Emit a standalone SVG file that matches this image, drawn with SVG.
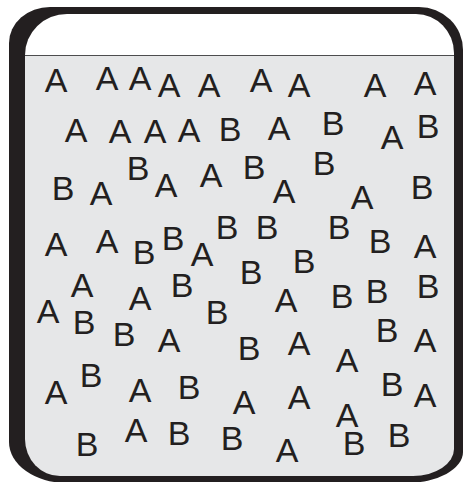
<svg xmlns="http://www.w3.org/2000/svg" width="466" height="482" viewBox="0 0 466 482">
<style>
.t{font-family:"Liberation Sans",Arial,sans-serif;font-size:34px;fill:#231f20;text-anchor:middle}
</style>
<defs>
<clipPath id="inner"><path d="M 67 14 H 416 A 38 39 0 0 1 454 53 V 449 A 41 27 0 0 1 413 476 H 60 A 35 37 0 0 1 25 439 V 55 A 42 41 0 0 1 67 14 Z"/></clipPath>
</defs>
<rect width="466" height="482" fill="#ffffff"/>
<g id="container">
<path d="M 50 7 H 419 A 44 43 0 0 1 463 50 V 452 A 57 31 0 0 1 406 483 H 67 A 58 41 0 0 1 9 442 V 43 A 41 36 0 0 1 50 7 Z" fill="#231f20"/>
<g clip-path="url(#inner)">
<rect x="0" y="0" width="466" height="55" fill="#ffffff"/>
<rect x="0" y="55" width="466" height="430" fill="#e6e7e8"/>
<line x1="0" y1="55.5" x2="466" y2="55.5" stroke="#4d4d4f" stroke-width="1.2"/>
</g>
</g>
<g id="letters">
<text class="t" x="56" y="92">A</text>
<text class="t" x="107" y="90">A</text>
<text class="t" x="140" y="90">A</text>
<text class="t" x="169" y="97">A</text>
<text class="t" x="209" y="97">A</text>
<text class="t" x="261" y="92">A</text>
<text class="t" x="299" y="97">A</text>
<text class="t" x="375" y="97">A</text>
<text class="t" x="425" y="95">A</text>

<text class="t" x="76" y="142">A</text>
<text class="t" x="120" y="143">A</text>
<text class="t" x="155" y="143">A</text>
<text class="t" x="189" y="142">A</text>
<text class="t" x="230" y="141">B</text>
<text class="t" x="279" y="140">A</text>
<text class="t" x="333" y="135">B</text>
<text class="t" x="392" y="149">A</text>
<text class="t" x="428" y="138">B</text>

<text class="t" x="63" y="200">B</text>
<text class="t" x="101" y="205">A</text>
<text class="t" x="138" y="180">B</text>
<text class="t" x="166" y="197">A</text>
<text class="t" x="211" y="187">A</text>
<text class="t" x="254" y="179">B</text>
<text class="t" x="284" y="203">A</text>
<text class="t" x="324" y="175">B</text>
<text class="t" x="362" y="209">A</text>
<text class="t" x="422" y="199">B</text>

<text class="t" x="56" y="256">A</text>
<text class="t" x="107" y="253">A</text>
<text class="t" x="144" y="264">B</text>
<text class="t" x="173" y="250">B</text>
<text class="t" x="202" y="266">A</text>
<text class="t" x="227" y="239">B</text>
<text class="t" x="267" y="239">B</text>
<text class="t" x="339" y="239">B</text>
<text class="t" x="380" y="253">B</text>
<text class="t" x="425" y="258">A</text>

<text class="t" x="82" y="297">A</text>
<text class="t" x="48" y="323">A</text>
<text class="t" x="84" y="334">B</text>
<text class="t" x="140" y="310">A</text>
<text class="t" x="182" y="297">B</text>
<text class="t" x="217" y="324">B</text>
<text class="t" x="124" y="346">B</text>
<text class="t" x="169" y="352">A</text>
<text class="t" x="251" y="284">B</text>
<text class="t" x="304" y="273">B</text>
<text class="t" x="286" y="312">A</text>
<text class="t" x="342" y="308">B</text>
<text class="t" x="377" y="303">B</text>
<text class="t" x="428" y="298">B</text>
<text class="t" x="387" y="342">B</text>
<text class="t" x="425" y="352">A</text>

<text class="t" x="249" y="360">B</text>
<text class="t" x="299" y="355">A</text>
<text class="t" x="347" y="372">A</text>
<text class="t" x="56" y="404">A</text>
<text class="t" x="91" y="387">B</text>
<text class="t" x="140" y="402">A</text>
<text class="t" x="189" y="399">B</text>
<text class="t" x="244" y="414">A</text>
<text class="t" x="299" y="409">A</text>
<text class="t" x="392" y="396">B</text>
<text class="t" x="425" y="407">A</text>
<text class="t" x="347" y="427">A</text>

<text class="t" x="87" y="456">B</text>
<text class="t" x="136" y="442">A</text>
<text class="t" x="179" y="445">B</text>
<text class="t" x="232" y="450">B</text>
<text class="t" x="287" y="462">A</text>
<text class="t" x="354" y="455">B</text>
<text class="t" x="399" y="447">B</text>
</g>
</svg>
